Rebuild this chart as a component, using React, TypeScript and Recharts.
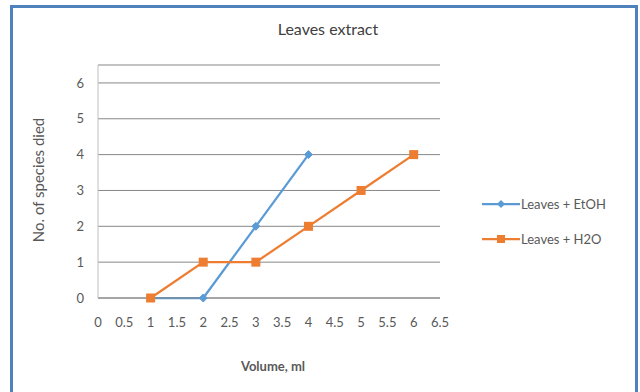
import { CartesianGrid, Line, LineChart, XAxis, YAxis } from 'recharts'

// Mortality counts per extract volume
const etohVolume = [1, 2, 3, 4]
const etohDied = [0, 0, 2, 4]
const h2oVolume = [1, 2, 3, 4, 5, 6]
const h2oDied = [0, 1, 1, 2, 3, 4]

const xTicks = [0, 0.5, 1, 1.5, 2, 2.5, 3, 3.5, 4, 4.5, 5, 5.5, 6, 6.5]
const yTicks = [0, 1, 2, 3, 4, 5, 6]

const BLUE = '#5b9bd5'
const ORANGE = '#ed7d31'
const TEXT = '#595959'
const FONT = 'Lato, "Open Sans", sans-serif'

const etohData = etohVolume.map((v, i) => ({ volume: v, died: etohDied[i] }))
const h2oData = h2oVolume.map((v, i) => ({ volume: v, died: h2oDied[i] }))

const Diamond = (props: any) => {
  const { cx, cy } = props
  if (cx == null || cy == null) return null
  const r = 4
  return (
    <path
      d={`M${cx},${cy - r} L${cx + r},${cy} L${cx},${cy + r} L${cx - r},${cy} Z`}
      fill={BLUE}
      stroke={BLUE}
    />
  )
}

const Square = (props: any) => {
  const { cx, cy } = props
  if (cx == null || cy == null) return null
  const s = 4.5
  return <rect x={cx - s} y={cy - s} width={s * 2} height={s * 2} fill={ORANGE} />
}

const legendItems = [
  { name: 'Leaves + EtOH', color: BLUE, square: false },
  { name: 'Leaves + H2O', color: ORANGE, square: true },
]

function ChartLegend() {
  return (
    <div
      style={{
        position: 'absolute',
        left: 482,
        top: 186,
        fontSize: 13,
        color: TEXT,
      }}
    >
      {legendItems.map((item) => (
        <div key={item.name} style={{ display: 'flex', alignItems: 'center', height: 35 }}>
          <svg width={38} height={12}>
            <line x1={0} y1={6} x2={38} y2={6} stroke={item.color} strokeWidth={2.25} />
            {item.square ? (
              <rect x={15} y={2} width={8} height={8} fill={item.color} />
            ) : (
              <path d="M19,2 L23,6 L19,10 L15,6 Z" fill={item.color} />
            )}
          </svg>
          <span style={{ marginLeft: 1, whiteSpace: 'nowrap' }}>{item.name}</span>
        </div>
      ))}
    </div>
  )
}

export default function App() {
  return (
    <div
      style={{
        position: 'absolute',
        left: 0,
        top: 0,
        width: 640,
        height: 392,
        overflow: 'hidden',
        background: '#fff',
        fontFamily: FONT,
      }}
    >
      <div
        style={{
          position: 'absolute',
          left: 10,
          top: 5,
          width: 622,
          height: 420,
          borderTop: '3px solid #4f81bd',
          borderLeft: '3px solid #4f81bd',
          borderRight: '3px solid #4f81bd',
        }}
      />
      <div
        style={{
          position: 'absolute',
          left: 0,
          width: 640,
          top: 19,
          textAlign: 'center',
          paddingLeft: 8,
          fontSize: 16,
          color: '#404040',
        }}
      >
        Leaves extract
      </div>
      <div style={{ position: 'absolute', left: 38, top: 180, width: 0, height: 0 }}>
        <div
          style={{
            position: 'absolute',
            transform: 'translate(-50%, -50%) rotate(-90deg)',
            whiteSpace: 'nowrap',
            fontSize: 15,
            color: TEXT,
          }}
        >
          No. of species died
        </div>
      </div>
      <div
        style={{
          position: 'absolute',
          left: 98,
          width: 350,
          top: 358,
          textAlign: 'center',
          fontSize: 13,
          fontWeight: 700,
          color: TEXT,
        }}
      >
        Volume, ml
      </div>
      <LineChart
        width={640}
        height={392}
        style={{ position: 'absolute', left: 0, top: 0 }}
        margin={{ top: 65, right: 200, left: 58, bottom: 64 }}
      >
        <CartesianGrid horizontal vertical={false} stroke="#878787" strokeWidth={1} />
        <XAxis
          type="number"
          dataKey="volume"
          domain={[0, 6.5]}
          ticks={xTicks}
          interval={0}
          height={30}
          axisLine={{ stroke: '#878787' }}
          tickLine={false}
          tickMargin={14}
          tick={{ fontSize: 13, fill: TEXT, fontFamily: FONT }}
          allowDuplicatedCategory={false}
        />
        <YAxis
          type="number"
          domain={[0, 6.5]}
          ticks={yTicks}
          width={40}
          axisLine={{ stroke: '#bfbfbf' }}
          tickLine={false}
          tickMargin={8}
          tick={{ fontSize: 13, fill: TEXT, fontFamily: FONT }}
        />
        <Line
          data={etohData}
          dataKey="died"
          name="Leaves + EtOH"
          stroke={BLUE}
          strokeWidth={2.25}
          dot={<Diamond />}
          activeDot={false}
          isAnimationActive={false}
        />
        <Line
          data={h2oData}
          dataKey="died"
          name="Leaves + H2O"
          stroke={ORANGE}
          strokeWidth={2.25}
          dot={<Square />}
          activeDot={false}
          isAnimationActive={false}
        />
      </LineChart>
      <ChartLegend />
    </div>
  )
}
